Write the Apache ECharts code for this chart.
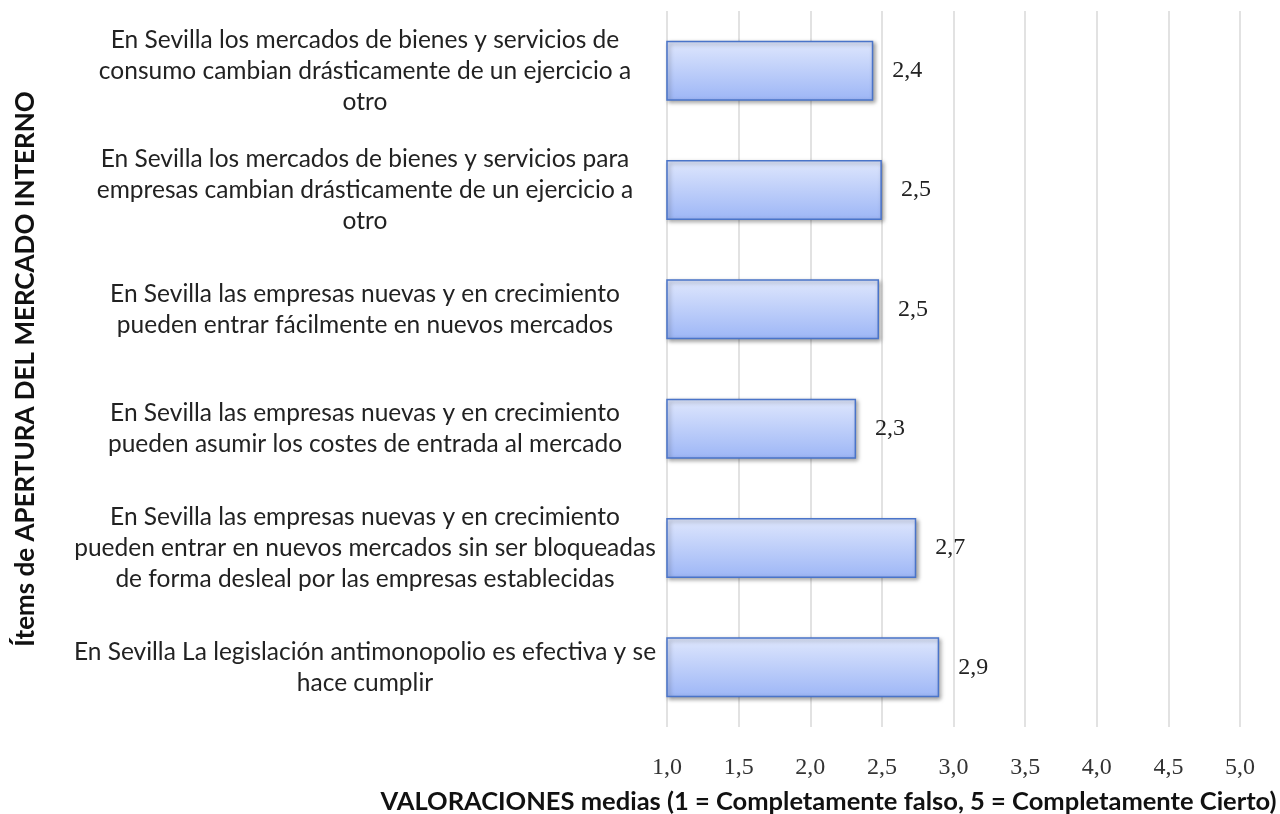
<!DOCTYPE html>
<html>
<head>
<meta charset="utf-8">
<script src="https://cdn.jsdelivr.net/npm/echarts@6/dist/echarts.min.js"></script>
<style>
  html, body { margin: 0; padding: 0; background: #ffffff; }
  #chart { width: 1280px; height: 814px; }
</style>
</head>
<body>
<div id="chart"></div>
<script>
// Survey items (one label per bar, top to bottom)
const categories = [
  'En Sevilla los mercados de bienes y servicios de\nconsumo cambian drásticamente de un ejercicio a\notro',
  'En Sevilla los mercados de bienes y servicios para\nempresas cambian drásticamente de un ejercicio a\notro',
  'En Sevilla las empresas nuevas y en crecimiento\npueden entrar fácilmente en nuevos mercados',
  'En Sevilla las empresas nuevas y en crecimiento\npueden asumir los costes de entrada al mercado',
  'En Sevilla las empresas nuevas y en crecimiento\npueden entrar en nuevos mercados sin ser bloqueadas\nde forma desleal por las empresas establecidas',
  'En Sevilla La legislación antimonopolio es efectiva y se\nhace cumplir'
];

// Mean ratings (scale 1 to 5)
const values = [2.44, 2.50, 2.48, 2.32, 2.74, 2.90];

const xAxisTitle = 'VALORACIONES medias (1 = Completamente falso, 5 = Completamente Cierto)';
const yAxisTitle = 'Ítems de APERTURA DEL MERCADO INTERNO';

const fmt = v => v.toFixed(1).replace('.', ',');

const chart = echarts.init(document.getElementById('chart'));
chart.setOption({
  animation: false,
  grid: {
    left: 667, right: 40, top: 11, bottom: 87,
    containLabel: false,
    outerBoundsMode: 'none'
  },
  xAxis: {
    type: 'value',
    min: 1,
    max: 5,
    interval: 0.5,
    axisLine: { show: false },
    axisTick: { show: false },
    splitLine: { show: true, lineStyle: { color: '#d9d9d9', width: 1.5 } },
    axisLabel: {
      margin: 29,
      fontFamily: 'Liberation Serif',
      fontSize: 24,
      color: '#333333',
      formatter: v => fmt(v)
    },
    name: xAxisTitle,
    nameLocation: 'middle',
    nameGap: 62,
    nameTextStyle: {
      fontFamily: 'Lato',
      fontWeight: 'bold',
      fontSize: 25.5,
      color: '#111111',
      padding: [0, 250, 0, 0]
    }
  },
  yAxis: {
    type: 'category',
    data: categories,
    inverse: true,
    axisLine: { show: false },
    axisTick: { show: false },
    axisLabel: {
      align: 'center',
      margin: 302,
      fontFamily: 'Lato',
      fontSize: 24.5,
      lineHeight: 31,
      color: '#222222'
    },
    name: yAxisTitle,
    nameLocation: 'middle',
    nameGap: 628,
    nameTextStyle: {
      fontFamily: 'Lato',
      fontWeight: 'bold',
      fontSize: 26,
      color: '#111111'
    }
  },
  series: [{
    type: 'bar',
    data: values,
    barWidth: 60,
    itemStyle: {
      color: new echarts.graphic.LinearGradient(0, 0, 0, 1, [
        { offset: 0, color: '#dfe7fd' },
        { offset: 1, color: '#9db6f6' }
      ]),
      borderColor: '#4a74c9',
      borderWidth: 1.5,
      shadowColor: 'rgba(0,0,0,0.35)',
      shadowBlur: 4,
      shadowOffsetX: 2,
      shadowOffsetY: 2
    },
    label: {
      show: true,
      position: 'right',
      distance: 19,
      fontFamily: 'Liberation Serif',
      fontSize: 24,
      color: '#222222',
      formatter: p => fmt(p.value)
    }
  }]
});
</script>
</body>
</html>
